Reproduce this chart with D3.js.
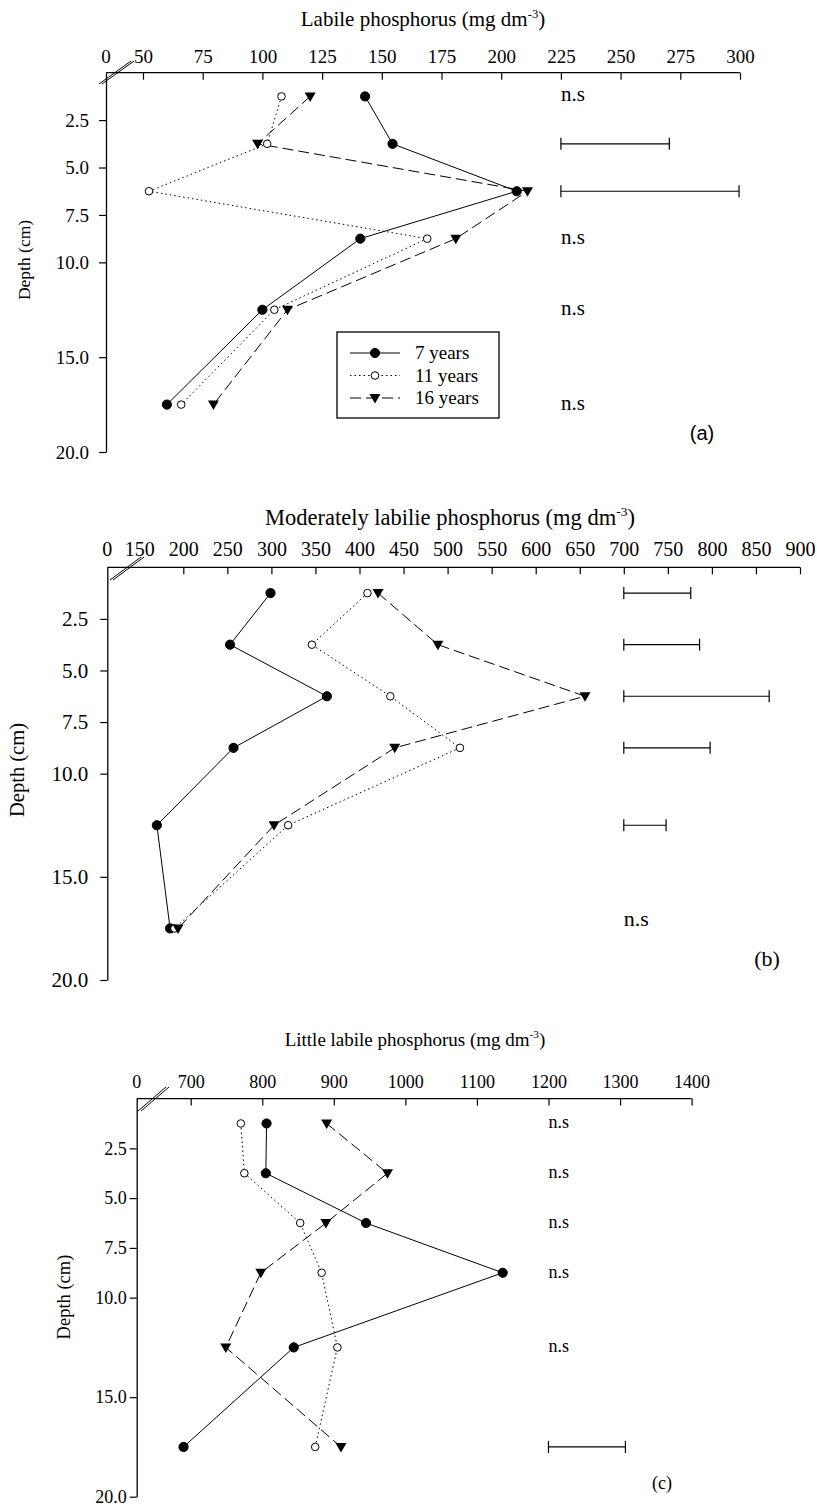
<!DOCTYPE html>
<html>
<head>
<meta charset="utf-8">
<script src="https://cdnjs.cloudflare.com/ajax/libs/d3/7.8.5/d3.min.js"></script>
<style>
body { margin: 0; background: #fff; }
svg text { font-family: "Liberation Serif", "Times New Roman", serif; fill: #000; }
</style>
</head>
<body>
<div id="chart"></div>
<script>
// depths of the sampled layers (cm)
var depths = [1.25, 3.75, 6.25, 8.75, 12.5, 17.5];
var depthTicks = [2.5, 5, 7.5, 10, 15, 20];
var seriesNames = ["7 years", "11 years", "16 years"];

// (a) labile phosphorus
var labile7 = [143, 154.5, 206.5, 141, 100, 60];
var labile11 = [108, 102, 52.5, 169, 105, 66];
var labile16 = [120, 98, 211, 181, 110.5, 79.5];
var labileTicks = [50, 75, 100, 125, 150, 175, 200, 225, 250, 275, 300];
var labileLsd = [null, 45.4, 74.6, null, null, null];

// (b) moderately labile phosphorus
var moderate7 = [299, 253, 363, 257, 170, 185];
var moderate11 = [409, 346, 435, 514, 319, 190];
var moderate16 = [421, 489, 656, 440, 303, 194];
var moderateTicks = [150, 200, 250, 300, 350, 400, 450, 500, 550, 600, 650, 700, 750, 800, 850, 900];
var moderateLsd = [76, 86, 165, 98, 48, null];

// (c) little labile phosphorus
var little7 = [806, 805, 945, 1136, 844, 690];
var little11 = [770, 775, 853, 883, 905, 874];
var little16 = [890, 975, 889, 798, 749, 910];
var littleTicks = [700, 800, 900, 1000, 1100, 1200, 1300, 1400];
var littleLsd = [null, null, null, null, null, 107.5];

var svg = d3.select("#chart").append("svg")
    .attr("width", 817)
    .attr("height", 1506);

var styles = [
    {dash: null, marker: "filled"},
    {dash: "1.5,3", marker: "open"},
    {dash: "11,5", marker: "tri"}
];

function drawMarker(sel, kind) {
    if (kind === "tri") {
        sel.append("path")
            .attr("d", "M-5.5,-4L5.5,-4L0,5.5Z")
            .attr("fill", "#000");
    } else {
        sel.append("circle")
            .attr("r", kind === "filled" ? 4.6 : 3.8)
            .attr("fill", kind === "filled" ? "#000" : "#fff")
            .attr("stroke", "#000")
            .attr("stroke-width", 1);
    }
}

function drawPanel(p) {
    var g = svg.append("g");

    var x = d3.scaleLinear().domain(p.xDomain).range(p.xRange);
    var y = d3.scaleLinear().domain([0, 20]).range(p.yRange);

    //top axis
    var xAxis = d3.axisTop(x)
        .tickValues(p.ticks)
        .tickSizeInner(-7)
        .tickSizeOuter(0)
        .tickPadding(p.xPad)
        .tickFormat(d3.format("d"));

    var gx = g.append("g")
        .attr("transform", `translate(0, ${p.yRange[0]})`)
        .call(xAxis)
        .attr("font-size", p.tickFont)
        .attr("font-family", null);
    gx.select(".domain").remove();
    gx.selectAll(".tick line")
        .filter(d => d < p.firstTick)
        .remove();
    gx.selectAll(".tick line").attr("stroke-width", 1.2);
    gx.append("line")
        .attr("x1", p.left)
        .attr("x2", p.xRange[1])
        .attr("stroke", "#000")
        .attr("stroke-width", 1.3);

    //the "0" before the axis break
    g.append("text")
        .attr("x", p.left)
        .attr("y", p.yRange[0] - p.xPad)
        .attr("text-anchor", "middle")
        .attr("font-size", p.tickFont)
        .text("0");

    //break marks
    [0, 3].forEach(function(off) {
        g.append("line")
            .attr("x1", p.brk[0] + off).attr("y1", p.brk[1])
            .attr("x2", p.brk[2] + off).attr("y2", p.brk[3])
            .attr("stroke", "#000")
            .attr("stroke-width", 1);
    });

    //left axis
    var yAxis = d3.axisLeft(y)
        .tickValues(depthTicks)
        .tickSizeInner(7)
        .tickSizeOuter(0)
        .tickPadding(p.yPad)
        .tickFormat(d3.format(".1f"));

    var gy = g.append("g")
        .attr("transform", `translate(${p.left}, 0)`)
        .call(yAxis)
        .attr("font-size", p.yTickFont)
        .attr("font-family", null);
    gy.select(".domain").attr("stroke-width", 1.3);
    gy.selectAll(".tick line").attr("stroke-width", 1.2);

    //title
    var title = g.append("text")
        .attr("x", p.titleX)
        .attr("y", p.titleY)
        .attr("text-anchor", "middle")
        .attr("font-size", p.titleFont);
    title.append("tspan").text(p.title + " (mg dm");
    title.append("tspan")
        .attr("dy", -p.titleFont * 0.4)
        .attr("font-size", p.titleFont * 0.6)
        .text("-3");
    title.append("tspan")
        .attr("dy", p.titleFont * 0.4)
        .text(")");

    //depth label
    g.append("text")
        .attr("transform", `translate(${p.depthX}, ${p.depthY}) rotate(-90)`)
        .attr("text-anchor", "middle")
        .attr("dy", "0.35em")
        .attr("font-size", p.depthFont)
        .text("Depth (cm)");

    //lines
    var line = d3.line()
        .x(d => x(d.v))
        .y(d => y(d.depth));

    p.series.forEach(function(vals, i) {
        var pts = vals.map((v, j) => ({v: v, depth: depths[j]}));
        g.append("path")
            .datum(pts)
            .attr("d", line)
            .attr("fill", "none")
            .attr("stroke", "#000")
            .attr("stroke-width", 1)
            .attr("stroke-dasharray", styles[i].dash);
    });

    p.series.forEach(function(vals, i) {
        g.selectAll(".m" + i)
            .data(vals)
            .enter()
            .append("g")
            .attr("transform", (d, j) => `translate(${x(d)}, ${y(depths[j])})`)
            .each(function() { drawMarker(d3.select(this), styles[i].marker); });
    });

    //LSD bars / n.s
    p.lsd.forEach(function(l, j) {
        var yy = y(depths[j]);
        if (l === null) {
            g.append("text")
                .attr("x", x(p.lsdStart))
                .attr("y", yy + p.nsDy)
                .attr("font-size", p.nsFont)
                .text("n.s");
        } else {
            var x0 = x(p.lsdStart), x1 = x(p.lsdStart + l);
            g.append("line")
                .attr("x1", x0).attr("x2", x1)
                .attr("y1", yy).attr("y2", yy)
                .attr("stroke", "#000").attr("stroke-width", 1.2);
            [x0, x1].forEach(function(xx) {
                g.append("line")
                    .attr("x1", xx).attr("x2", xx)
                    .attr("y1", yy - 6).attr("y2", yy + 6)
                    .attr("stroke", "#000").attr("stroke-width", 1.2);
            });
        }
    });

    //panel letter
    g.append("text")
        .attr("x", p.letterX)
        .attr("y", p.letterY)
        .attr("text-anchor", "middle")
        .attr("font-size", p.letterFont)
        .style("font-family", p.letterSans ? "'Liberation Sans', Arial, sans-serif" : null)
        .text(p.letter);

    return g;
}

drawPanel({
    title: "Labile phosphorus",
    series: [labile7, labile11, labile16],
    ticks: labileTicks,
    firstTick: 50,
    lsd: labileLsd,
    lsdStart: 225,
    xDomain: [50, 300],
    xRange: [143, 740],
    yRange: [72.7, 452],
    left: 106,
    brk: [99, 84, 131, 61],
    xPad: 9.5,
    yPad: 10,
    tickFont: 19,
    yTickFont: 19,
    titleFont: 21,
    titleX: 423,
    titleY: 26,
    depthFont: 17.5,
    depthX: 24,
    depthY: 260,
    nsFont: 21,
    nsDy: 5,
    letter: "(a)",
    letterSans: true,
    letterX: 702,
    letterY: 440,
    letterFont: 20
});

drawPanel({
    title: "Moderately labilie phosphorus",
    series: [moderate7, moderate11, moderate16],
    ticks: moderateTicks,
    firstTick: 200,
    lsd: moderateLsd,
    lsdStart: 700,
    xDomain: [200, 900],
    xRange: [183.3, 800],
    yRange: [567.3, 980],
    left: 107.3,
    brk: [110, 580, 141, 557],
    xPad: 11,
    yPad: 12,
    tickFont: 20,
    yTickFont: 21,
    titleFont: 22.5,
    titleX: 450,
    titleY: 525,
    depthFont: 20.5,
    depthX: 17,
    depthY: 770,
    nsFont: 22,
    nsDy: -2,
    letter: "(b)",
    letterSans: false,
    letterX: 767,
    letterY: 966,
    letterFont: 22
});

drawPanel({
    title: "Little labile phosphorus",
    series: [little7, little11, little16],
    ticks: littleTicks,
    firstTick: 700,
    lsd: littleLsd,
    lsdStart: 1200,
    xDomain: [700, 1400],
    xRange: [190.7, 691.6],
    yRange: [1098.6, 1496.7],
    left: 136.7,
    brk: [138, 1111, 166, 1087],
    xPad: 10.5,
    yPad: 3,
    tickFont: 18,
    yTickFont: 18,
    titleFont: 19,
    titleX: 415,
    titleY: 1046,
    depthFont: 18.5,
    depthX: 64,
    depthY: 1297,
    nsFont: 18,
    nsDy: 5,
    letter: "(c)",
    letterSans: false,
    letterX: 662,
    letterY: 1489,
    letterFont: 18
});

//legend for panel (a)
var legend = svg.append("g");
legend.append("rect")
    .attr("x", 337).attr("y", 332)
    .attr("width", 162).attr("height", 86)
    .attr("fill", "#fff")
    .attr("stroke", "#000")
    .attr("stroke-width", 1.3);

seriesNames.forEach(function(name, i) {
    var ly = 353 + i * 22.5;
    legend.append("line")
        .attr("x1", 350).attr("x2", 400)
        .attr("y1", ly).attr("y2", ly)
        .attr("stroke", "#000")
        .attr("stroke-dasharray", styles[i].dash);
    var m = legend.append("g").attr("transform", `translate(375, ${ly})`);
    drawMarker(m, styles[i].marker);
    legend.append("text")
        .attr("x", 415)
        .attr("y", ly + 6)
        .attr("font-size", 19)
        .text(name);
});
</script>
</body>
</html>
